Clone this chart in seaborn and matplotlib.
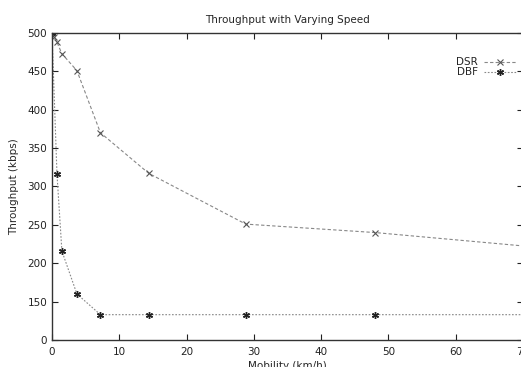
import matplotlib
matplotlib.use("Agg")
import matplotlib.pyplot as plt
import seaborn as sns
import pandas as pd

sns.set_theme(style="white")
plt.rcParams['font.family'] = ['DejaVu Sans']

title = "Throughput with Varying Speed"
xlabel = "Mobility (km/h)"
ylabel = "Throughput (kbps)"

dsr_speed = [0, 0.37, 0.74, 1.47, 3.7, 7.2, 14.4, 28.8, 48, 72]
dsr_tput = [500, 495, 488, 473, 451, 370, 317, 251, 240, 221]
dbf_speed = [0, 0.74, 1.47, 3.7, 7.2, 14.4, 28.8, 48, 72]
dbf_tput = [500, 316, 216, 160, 133, 133, 133, 133, 133]

yticks = [100, 150, 200, 250, 300, 350, 400, 450, 500]
yticklabels = ["0", "150", "200", "250", "300", "350", "400", "450", "500"]
xticks = [0, 10, 20, 30, 40, 50, 60, 70]

df = pd.concat([
    pd.DataFrame({"speed": dsr_speed, "tput": dsr_tput, "proto": "DSR"}),
    pd.DataFrame({"speed": dbf_speed, "tput": dbf_tput, "proto": "DBF"}),
])

fig = plt.figure(figsize=(5.21, 3.67), dpi=100)
ax = fig.add_axes([52/521, 1 - 340/367, 471/521, 307/367])

sns.lineplot(data=df[df.proto == "DSR"], x="speed", y="tput", ax=ax,
             color="#888888", linewidth=0.8, linestyle=(0, (3, 2)),
             marker="x", markersize=5, markeredgecolor="#555555",
             markeredgewidth=0.8, label="DSR", estimator=None, sort=False)
sns.lineplot(data=df[df.proto == "DBF"], x="speed", y="tput", ax=ax,
             color="#888888", linewidth=0.8, linestyle=(0, (1.5, 1.5)),
             marker=(6, 2, 0), markersize=5, markeredgecolor="#222222",
             markeredgewidth=1.0, label="DBF", estimator=None, sort=False)

ax.set_xlim(0, 70)
ax.set_ylim(100, 500)
ax.set_xticks(xticks)
ax.set_yticks(yticks)
ax.set_yticklabels(yticklabels)
ax.tick_params(direction="in", length=4, width=0.8, labelsize=7.5,
               top=True, right=True, bottom=True, left=True, colors="#222222")
ax.tick_params(axis="x", pad=5)
for s in ax.spines.values():
    s.set_color("#333333")
    s.set_linewidth(1.0)

ax.set_title(title, fontsize=7.5, pad=7)
ax.set_xlabel(xlabel, fontsize=7.5, labelpad=3)
ax.set_ylabel(ylabel, fontsize=7.5, labelpad=6)

leg = ax.legend(loc="upper right", bbox_to_anchor=(1.0, 0.945), frameon=False,
                fontsize=7.5, markerfirst=False, handlelength=3.0,
                labelspacing=0.0, handletextpad=0.6, borderaxespad=0.3)

fig.savefig("out.png", dpi=100)
